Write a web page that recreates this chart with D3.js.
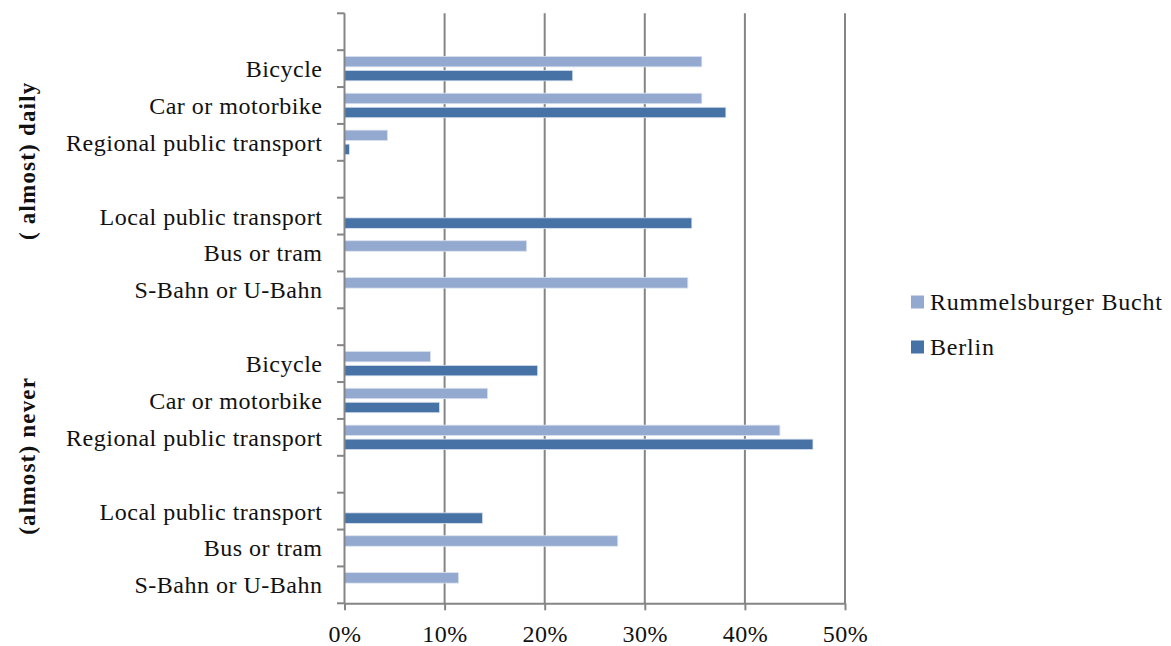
<!DOCTYPE html>
<html>
<head>
<meta charset="utf-8">
<script src="https://cdn.jsdelivr.net/npm/d3@7"></script>
<style>
  html, body { margin: 0; padding: 0; background: #fff; }
  svg { display: block; }
  text { font-family: "Liberation Serif", "DejaVu Serif", serif; fill: #111; }
</style>
</head>
<body>
<svg id="chart" width="1171" height="646"></svg>
<script>
// Frequency groups (outer category level)
const groups = ["( almost) daily", "(almost) never"];
// Transport modes within each group (blank entries are spacer rows)
const modes = ["", "Bicycle", "Car or motorbike", "Regional public transport", "",
               "Local public transport", "Bus or tram", "S-Bahn or U-Bahn"];
// Share of respondents in %, first group then second group (null = no bar)
const rummelsburger = [null, 35.7, 35.7, 4.3, null, null, 18.2, 34.3,
                       null, 8.6, 14.3, 43.5, null, null, 27.3, 11.4];
const berlin        = [null, 22.8, 38.1, 0.5, null, 34.7, null, null,
                       null, 19.3, 9.5, 46.8, null, 13.8, null, null];
const seriesNames = ["Rummelsburger Bucht", "Berlin"];
const xTicks = [0, 10, 20, 30, 40, 50];

const colors = { "Rummelsburger Bucht": "#94a9cf", "Berlin": "#4672a6" };
const gridColor = "#858585";
const lineW = 2;

const svg = d3.select("#chart");
const plotLeft = 344.5, plotRight = 845, plotTop = 13.3, plotBottom = 603.3;

// One row key per slot
const rowKeys = [];
groups.forEach((g, gi) => modes.forEach((m, mi) => rowKeys.push(gi + "|" + mi)));

const x = d3.scaleLinear().domain([0, 50]).range([plotLeft, plotRight]);
const y = d3.scaleBand().domain(rowKeys).range([plotTop, plotBottom]).padding(0);
const inner = d3.scaleBand().domain(seriesNames).range([0, y.bandwidth()])
  .paddingInner(0.25).paddingOuter(0.442);

// Vertical gridlines
svg.append("g").selectAll("line").data(xTicks.slice(1)).join("line")
  .attr("x1", d => x(d)).attr("x2", d => x(d))
  .attr("y1", plotTop).attr("y2", plotBottom)
  .attr("stroke", gridColor).attr("stroke-width", lineW);

// Bars
const barData = [];
rowKeys.forEach((k, i) => {
  if (rummelsburger[i] != null) barData.push({ key: k, s: "Rummelsburger Bucht", v: rummelsburger[i] });
  if (berlin[i] != null) barData.push({ key: k, s: "Berlin", v: berlin[i] });
});
svg.append("g").selectAll("rect").data(barData).join("rect")
  .attr("x", x(0))
  .attr("y", d => y(d.key) + inner(d.s))
  .attr("width", d => x(d.v) - x(0))
  .attr("height", inner.bandwidth())
  .attr("fill", d => colors[d.s])
  .attr("stroke", "#dce4f0").attr("stroke-width", 0.8);

// Category axis (vertical) with ticks at slot boundaries
const yTickPos = rowKeys.map(k => y(k)).concat([plotBottom]);
const yAxisG = svg.append("g");
yAxisG.append("line").attr("x1", plotLeft).attr("x2", plotLeft).attr("y1", plotTop).attr("y2", plotBottom)
  .attr("stroke", gridColor).attr("stroke-width", lineW);
yAxisG.selectAll("line.tick").data(yTickPos).join("line").attr("class", "tick")
  .attr("x1", plotLeft - 7.5).attr("x2", plotLeft).attr("y1", d => d).attr("y2", d => d)
  .attr("stroke", gridColor).attr("stroke-width", lineW);

// Mode labels
svg.append("g").selectAll("text").data(rowKeys.filter(k => modes[+k.split("|")[1]] !== "")).join("text")
  .attr("x", 322.5).attr("y", d => y(d) + y.bandwidth() / 2)
  .attr("dy", "0.35em").attr("text-anchor", "end")
  .style("font-size", "24px").style("letter-spacing", "0.5px")
  .text(d => modes[+d.split("|")[1]]);

// Group labels, rotated
svg.append("g").selectAll("text").data(groups).join("text")
  .attr("transform", (g, gi) => {
    const y0 = y(gi + "|0"), y1 = y(gi + "|" + (modes.length - 1)) + y.bandwidth();
    return `translate(27,${(y0 + y1) / 2}) rotate(-90)`;
  })
  .attr("text-anchor", "middle").attr("dy", "0.35em")
  .style("font-size", "23px").style("font-weight", "bold").style("letter-spacing", "1.2px")
  .text(d => d);

// Value axis (horizontal)
const xAxis = d3.axisBottom(x).tickValues(xTicks).tickSize(7).tickSizeOuter(0)
  .tickFormat(d => d + "%");
const xg = svg.append("g").attr("transform", `translate(0,${plotBottom})`).call(xAxis);
xg.select(".domain").attr("stroke", gridColor).attr("stroke-width", lineW);
xg.selectAll(".tick line").attr("stroke", gridColor).attr("stroke-width", lineW);
xg.selectAll(".tick text").attr("dy", "1.2em").style("font-size", "24px")
  .style("font-family", "'Liberation Serif', serif").style("letter-spacing", "0.5px")
  .attr("fill", "#111");

// Legend
const legend = svg.append("g").attr("transform", "translate(911,0)");
const ly = d3.scalePoint().domain(seriesNames).range([302, 347]);
legend.selectAll("rect").data(seriesNames).join("rect")
  .attr("x", 0).attr("y", d => ly(d) - 6.5).attr("width", 13).attr("height", 13)
  .attr("fill", d => colors[d]);
legend.selectAll("text").data(seriesNames).join("text")
  .attr("x", 19).attr("y", d => ly(d)).attr("dy", "0.35em")
  .style("font-size", "24px").style("letter-spacing", "0.8px")
  .text(d => d);
</script>
</body>
</html>
